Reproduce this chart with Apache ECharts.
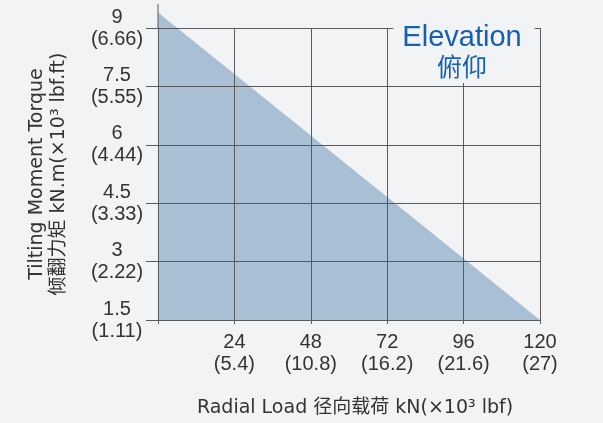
<!DOCTYPE html>
<html>
<head>
<meta charset="utf-8">
<script src="https://cdn.jsdelivr.net/npm/echarts@6/dist/echarts.min.js"></script>
<style>
  html, body { margin: 0; padding: 0; background: #f2f3f5; }
  #chart { width: 603px; height: 423px; }
</style>
</head>
<body>
<div id="chart"></div>
<script>
// radial load ticks (kN) and their lbf equivalents (x10^3)
const loadTicks = [0, 24, 48, 72, 96, 120];
const loadLbf = ['', '5.4', '10.8', '16.2', '21.6', '27'];
// tilting moment ticks (kN.m) and lbf.ft equivalents (x10^3)
const torqueTicks = [1.5, 3, 4.5, 6, 7.5, 9];
const torqueLbf = ['1.11', '2.22', '3.33', '4.44', '5.55', '6.66'];
// boundary of the allowed area
const boundaryLoad = [0, 120];
const boundaryTorque = [9.4, 1.5];

const bg = '#f2f3f5';
const lineColor = '#5a5a5a';
const textColor = '#333333';
const latin = '"Liberation Sans", Arial, "Noto Sans CJK SC", sans-serif';
const nameFont = '"DejaVu Sans", "Noto Sans CJK SC", sans-serif';

const chart = echarts.init(document.getElementById('chart'));
chart.setOption({
  backgroundColor: bg,
  animation: false,
  title: {
    text: 'Elevation',
    subtext: '俯仰',
    left: 453,
    top: 19,
    textAlign: 'center',
    textVerticalAlign: 'top',
    itemGap: 2,
    padding: [4, 13, 4, 9],
    backgroundColor: bg,
    textStyle: { fontFamily: latin, fontSize: 29, fontWeight: 'normal', color: '#1560b0' },
    subtextStyle: { fontFamily: '"Noto Sans CJK SC", sans-serif', fontSize: 25, color: '#1560b0' }
  },
  grid: { left: 158, right: 63, top: 28, bottom: 100 },
  xAxis: {
    type: 'value',
    min: 0,
    max: 120,
    interval: 24,
    name: 'Radial Load 径向载荷 kN(×10³ lbf)',
    nameLocation: 'middle',
    nameGap: 79,
    nameTextStyle: { fontFamily: nameFont, fontSize: 19, color: textColor, padding: [0, 0, 0, 12] },
    axisLine: { lineStyle: { color: lineColor, width: 1 } },
    axisTick: { show: true, length: 4, lineStyle: { color: lineColor } },
    axisLabel: {
      margin: 11,
      fontFamily: latin,
      fontSize: 20,
      lineHeight: 22,
      color: textColor,
      formatter: function (v) {
        const i = loadTicks.indexOf(v);
        if (i <= 0) return '';
        return v + '\n(' + loadLbf[i] + ')';
      }
    },
    splitLine: { show: true, lineStyle: { color: lineColor, width: 1 } }
  },
  yAxis: {
    type: 'value',
    min: 1.5,
    max: 9,
    interval: 1.5,
    name: 'Tilting Moment Torque\n倾翻力矩 kN.m(×10³ lbf.ft)',
    nameLocation: 'middle',
    nameRotate: 90,
    nameGap: 88,
    nameTextStyle: { fontFamily: nameFont, fontSize: 19, lineHeight: 22, color: textColor, align: 'center' },
    axisLine: {
      show: true,
      lineStyle: { color: lineColor, width: 1 },
      symbol: ['none', 'rect'],
      symbolSize: [1, 24],
      symbolOffset: [0, 12]
    },
    axisTick: { show: true, length: 12, lineStyle: { color: lineColor } },
    axisLabel: {
      margin: 41,
      align: 'center',
      padding: [4, 0, 0, 0],
      fontFamily: latin,
      fontSize: 20,
      lineHeight: 22,
      color: textColor,
      formatter: function (v) {
        const i = torqueTicks.indexOf(v);
        return v + '\n(' + torqueLbf[i] + ')';
      }
    },
    splitLine: { show: true, lineStyle: { color: lineColor, width: 1 } }
  },
  series: [
    {
      type: 'line',
      z: -1,
      clip: false,
      symbol: 'none',
      lineStyle: { width: 0 },
      areaStyle: { color: '#a9c0d4', opacity: 1 },
      data: boundaryLoad.map((x, i) => [x, boundaryTorque[i]])
    }
  ]
});
</script>
</body>
</html>
